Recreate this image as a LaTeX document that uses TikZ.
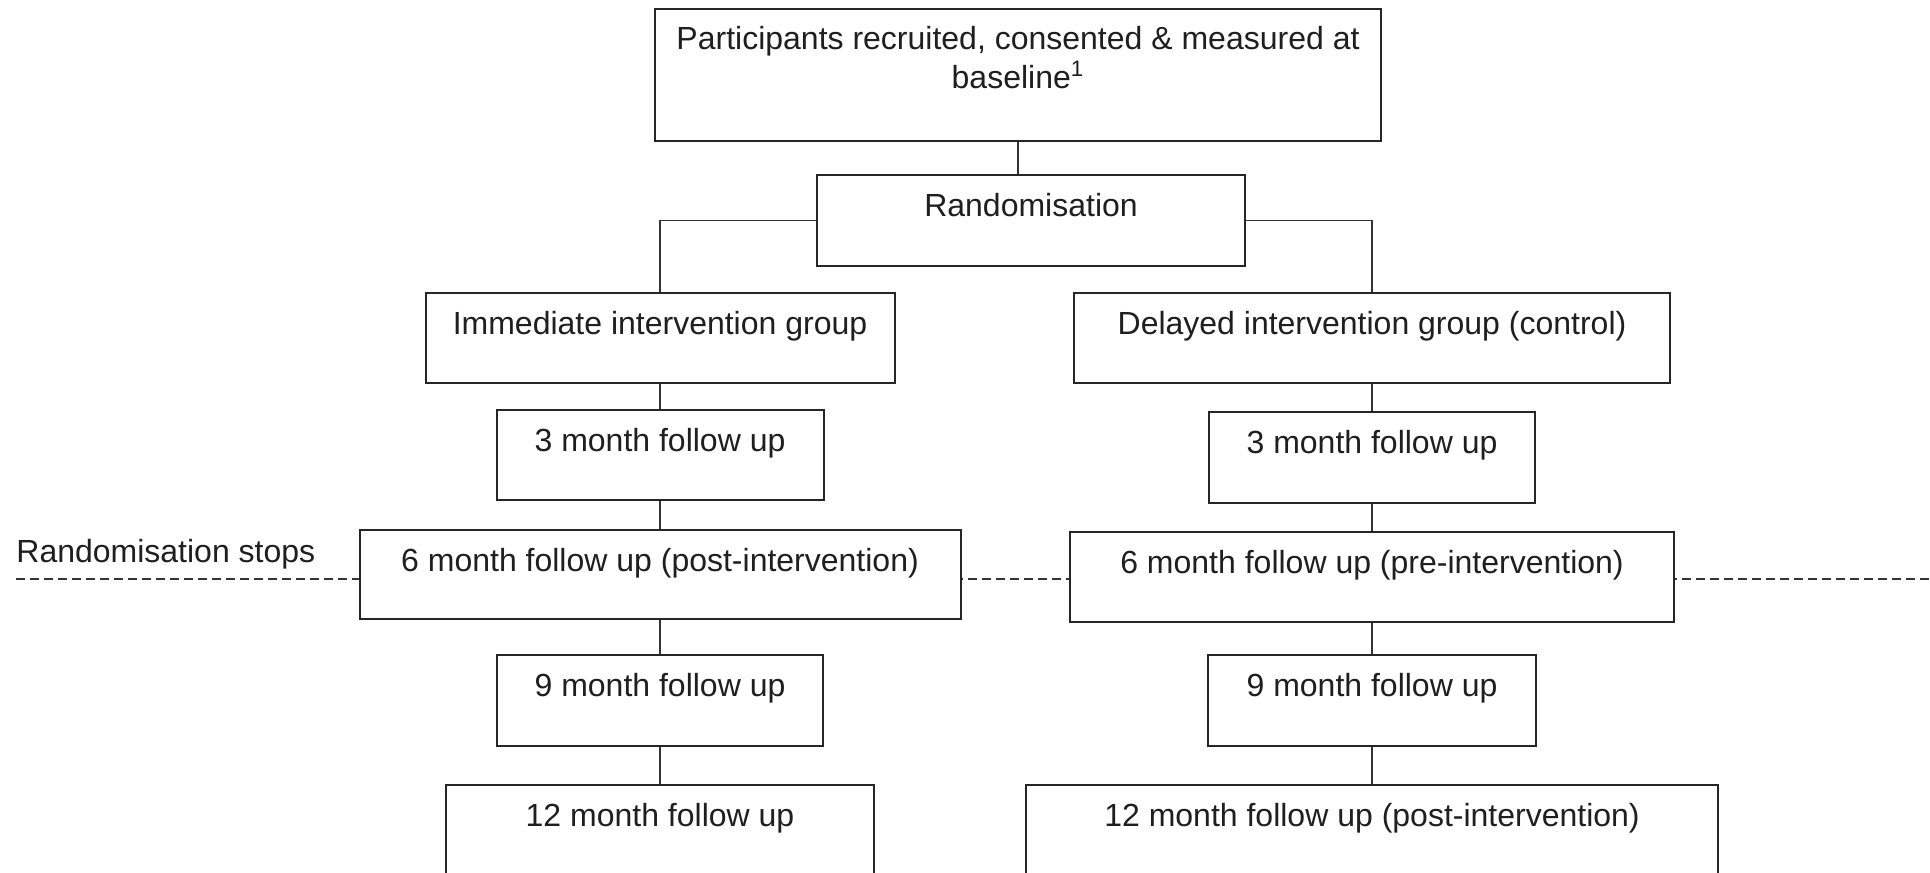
\documentclass[tikz,border=0pt]{standalone}
\usepackage{fontspec}
\setmainfont{Liberation Sans}
\begin{document}
\begin{tikzpicture}[x=0.5pt,y=-0.5pt,
  txt/.style={font=\fontsize{16}{19.5}\selectfont, text=black!88},
  flowbox/.style={txt, draw=black!85, line width=1pt, fill=white, inner sep=0pt,
    anchor=north, text height=20.5pt},
  conn/.style={draw=black!80, line width=0.75pt},
  sepline/.style={draw=black!80, line width=0.75pt, dash pattern=on 4.5pt off 2.5pt}]
\useasboundingbox (0,0) rectangle (1930,872);
\clip (0,0) rectangle (1930,872);
\fill[white] (0,0) rectangle (1930,872);
% dashed separator
\coordinate (dl) at (16,579);
\coordinate (dr) at (1930,579);
\draw[sepline] (dl) -- (dr);
\node[txt, anchor=base west, inner sep=0pt] (stops) at (16,562) {Randomisation stops};
% boxes
\node[flowbox, minimum width=363pt, text height=40pt, text depth=26pt, align=center] (top) at (1018,8)
  {Participants recruited, consented \& measured at\\baseline\textsuperscript{1}};
\node[flowbox, minimum width=214pt, text depth=25pt] (rand) at (1031,174) {Randomisation};
\node[flowbox, minimum width=234.5pt, text depth=24.5pt] (imm) at (660,292) {Immediate intervention group};
\node[flowbox, minimum width=298pt, text depth=24.5pt] (del) at (1372,292) {Delayed intervention group (control)};
\node[flowbox, minimum width=163.5pt, text depth=24.5pt] (l3) at (660,409) {3 month follow up};
\node[flowbox, minimum width=163pt, text depth=25pt] (r3) at (1372,411) {3 month follow up};
\node[flowbox, minimum width=300.5pt, text depth=24pt] (l6) at (660,529) {6 month follow up (post-intervention)};
\node[flowbox, minimum width=302pt, text depth=24.5pt] (r6) at (1372,531) {6 month follow up (pre-intervention)};
\node[flowbox, minimum width=163pt, text depth=25pt] (l9) at (660,654) {9 month follow up};
\node[flowbox, minimum width=164pt, text depth=25pt] (r9) at (1372,654) {9 month follow up};
\node[flowbox, minimum width=214pt, text depth=45pt] (l12) at (660,784) {12 month follow up};
\node[flowbox, minimum width=346pt, text depth=45pt] (r12) at (1372,784) {12 month follow up (post-intervention)};
% connectors
\draw[conn] (top.south) -- (top.south |- rand.north);
\draw[conn] (rand.west) -| (imm.north);
\draw[conn] (rand.east) -| (del.north);
\draw[conn] (imm.south) -- (l3.north);
\draw[conn] (l3.south) -- (l6.north);
\draw[conn] (l6.south) -- (l9.north);
\draw[conn] (l9.south) -- (l12.north);
\draw[conn] (del.south) -- (r3.north);
\draw[conn] (r3.south) -- (r6.north);
\draw[conn] (r6.south) -- (r9.north);
\draw[conn] (r9.south) -- (r12.north);
\end{tikzpicture}
\end{document}
